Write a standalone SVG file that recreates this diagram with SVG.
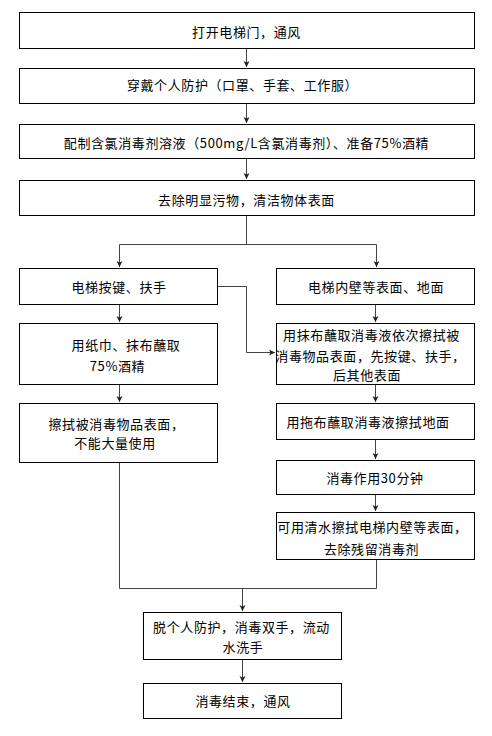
<svg xmlns="http://www.w3.org/2000/svg" width="492" height="736" viewBox="0 0 492 736">
<style>
.box{fill:#fff;stroke:#000;stroke-width:1}
.t{font-family:"Noto Sans CJK SC","Liberation Sans",sans-serif;font-size:13px;letter-spacing:0.6px;fill:#000;text-anchor:middle}
.c{fill:none;stroke:#444;stroke-width:1}
</style>
<defs>
<marker id="ah" markerUnits="userSpaceOnUse" markerWidth="7" markerHeight="7" refX="6" refY="3.5" orient="auto">
<path d="M0,0.5 L6,3.5 L0,6.5 L1.5,3.5 z" fill="#222"/>
</marker>
</defs>
<rect width="492" height="736" fill="#fff"/>
<g id="connectors">
<path class="c" d="M246.5,48 V67" marker-end="url(#ah)"/>
<path class="c" d="M246.5,103 V123" marker-end="url(#ah)"/>
<path class="c" d="M246.5,158 V179" marker-end="url(#ah)"/>
<path class="c" d="M246.5,215 V244.5 M119.5,244.5 H376.5"/>
<path class="c" d="M119.5,244.5 V267" marker-end="url(#ah)"/>
<path class="c" d="M376.5,244.5 V267" marker-end="url(#ah)"/>
<path class="c" d="M119.5,304 V322" marker-end="url(#ah)"/>
<path class="c" d="M119.5,384 V402" marker-end="url(#ah)"/>
<path class="c" d="M119.5,462 V588.5 H376.5 V559"/>
<path class="c" d="M242.5,588.5 V611" marker-end="url(#ah)"/>
<path class="c" d="M218,286.5 H246.5 V352.5 H275" marker-end="url(#ah)"/>
<path class="c" d="M375.5,304 V322" marker-end="url(#ah)"/>
<path class="c" d="M375.5,384 V402" marker-end="url(#ah)"/>
<path class="c" d="M375.5,439 V459" marker-end="url(#ah)"/>
<path class="c" d="M375.5,494 V511" marker-end="url(#ah)"/>
<path class="c" d="M242.5,659 V682" marker-end="url(#ah)"/>
</g>
<g id="n1"><rect class="box" x="19.5" y="12.5" width="455" height="36"/><text class="t" x="246.5" y="37">打开电梯门，通风</text></g>
<g id="n2"><rect class="box" x="19.5" y="68.5" width="455" height="35"/><text class="t" x="242.5" y="90">穿戴个人防护（口罩、手套、工作服）</text></g>
<g id="n3"><rect class="box" x="19.5" y="124.5" width="455" height="34"/><text class="t" x="246.5" y="148">配制含氯消毒剂溶液（500mg/L含氯消毒剂）、准备75%酒精</text></g>
<g id="n4"><rect class="box" x="19.5" y="180.5" width="455" height="35"/><text class="t" x="246.5" y="205">去除明显污物，清洁物体表面</text></g>
<g id="l1"><rect class="box" x="19.5" y="268.5" width="198" height="36"/><text class="t" x="119" y="292">电梯按键、扶手</text></g>
<g id="l2"><rect class="box" x="19.5" y="323.5" width="198" height="61"/><text class="t" x="126" y="350">用纸巾、抹布蘸取</text><text class="t" x="117.5" y="371">75%酒精</text></g>
<g id="l3"><rect class="box" x="19.5" y="403.5" width="198" height="59"/><text class="t" x="116.5" y="429">擦拭被消毒物品表面，</text><text class="t" x="115" y="448">不能大量使用</text></g>
<g id="r1"><rect class="box" x="276.5" y="268.5" width="198" height="36"/><text class="t" x="376" y="292">电梯内壁等表面、地面</text></g>
<g id="r2"><rect class="box" x="276.5" y="323.5" width="198" height="61"/><text class="t" x="371.5" y="340">用抹布蘸取消毒液依次擦拭被</text><text class="t" x="370.5" y="361">消毒物品表面，先按键、扶手，</text><text class="t" x="367" y="380">后其他表面</text></g>
<g id="r3"><rect class="box" x="276.5" y="403.5" width="198" height="36"/><text class="t" x="368" y="427">用拖布蘸取消毒液擦拭地面</text></g>
<g id="r4"><rect class="box" x="276.5" y="460.5" width="198" height="34"/><text class="t" x="375" y="483">消毒作用30分钟</text></g>
<g id="r5"><rect class="box" x="276.5" y="512.5" width="198" height="47"/><text class="t" x="372.5" y="532">可用清水擦拭电梯内壁等表面，</text><text class="t" x="371.5" y="554">去除残留消毒剂</text></g>
<g id="b1"><rect class="box" x="143.5" y="612.5" width="198" height="47"/><text class="t" x="241.5" y="632">脱个人防护，消毒双手，流动</text><text class="t" x="243" y="652">水洗手</text></g>
<g id="b2"><rect class="box" x="143.5" y="683.5" width="198" height="35"/><text class="t" x="243" y="706">消毒结束，通风</text></g>
</svg>
